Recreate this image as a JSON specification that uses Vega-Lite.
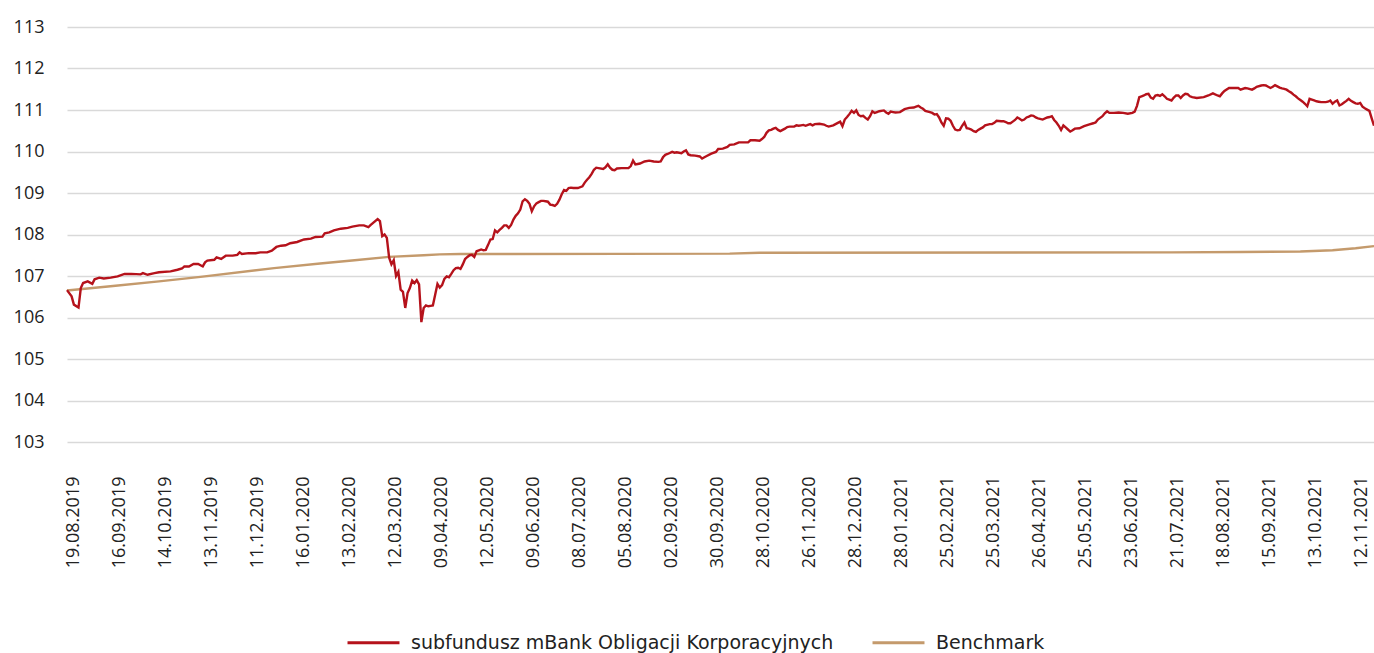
{
  "$schema": "https://vega.github.io/schema/vega-lite/v6.json",
  "autosize": "none",
  "width": 1307,
  "height": 415,
  "padding": {"left": 67, "top": 27, "right": 0, "bottom": 211},
  "background": "white",
  "config": {
    "view": {"stroke": null},
    "font": "Open Sans",
    "axis": {"labelFont": "Open Sans", "labelColor": "#222222", "labelFontSize": 18},
    "legend": {"labelFont": "DejaVu Sans", "labelColor": "#222222", "labelFontSize": 19}
  },
  "datasets": {
    "fund": [
      {"n":0,"v":106.66},{"n":2,"v":106.51},{"n":3,"v":106.31},{"n":5,"v":106.24},{"n":6,"v":106.71},{"n":7,"v":106.83},{"n":9,"v":106.87},{"n":11,"v":106.81},{"n":12,"v":106.92},{"n":14,"v":106.96},{"n":16,"v":106.94},{"n":19,"v":106.96},{"n":22,"v":106.99},{"n":25,"v":107.05},{"n":28,"v":107.05},{"n":32,"v":107.04},{"n":33,"v":107.07},{"n":35,"v":107.03},{"n":38,"v":107.07},{"n":40,"v":107.09},{"n":45,"v":107.11},{"n":48,"v":107.15},{"n":50,"v":107.18},{"n":51,"v":107.23},{"n":53,"v":107.23},{"n":55,"v":107.29},{"n":57,"v":107.29},{"n":59,"v":107.23},{"n":60,"v":107.33},{"n":61,"v":107.37},{"n":64,"v":107.39},{"n":65,"v":107.45},{"n":67,"v":107.41},{"n":69,"v":107.49},{"n":72,"v":107.49},{"n":74,"v":107.51},{"n":75,"v":107.57},{"n":76,"v":107.53},{"n":79,"v":107.55},{"n":82,"v":107.55},{"n":84,"v":107.57},{"n":87,"v":107.57},{"n":89,"v":107.61},{"n":91,"v":107.70},{"n":93,"v":107.73},{"n":95,"v":107.74},{"n":97,"v":107.79},{"n":100,"v":107.82},{"n":103,"v":107.88},{"n":106,"v":107.90},{"n":108,"v":107.94},{"n":111,"v":107.95},{"n":112,"v":108.03},{"n":114,"v":108.05},{"n":116,"v":108.10},{"n":119,"v":108.14},{"n":122,"v":108.16},{"n":124,"v":108.19},{"n":127,"v":108.22},{"n":129,"v":108.22},{"n":131,"v":108.18},{"n":132,"v":108.23},{"n":135,"v":108.37},{"n":136,"v":108.32},{"n":137,"v":107.96},{"n":138,"v":108.00},{"n":139,"v":107.92},{"n":140,"v":107.44},{"n":141,"v":107.28},{"n":142,"v":107.38},{"n":143,"v":107.00},{"n":144,"v":107.10},{"n":145,"v":106.67},{"n":146,"v":106.62},{"n":147,"v":106.23},{"n":148,"v":106.59},{"n":149,"v":106.71},{"n":150,"v":106.89},{"n":151,"v":106.83},{"n":152,"v":106.90},{"n":153,"v":106.80},{"n":154,"v":105.89},{"n":155,"v":106.23},{"n":156,"v":106.29},{"n":157,"v":106.27},{"n":158,"v":106.28},{"n":159,"v":106.29},{"n":160,"v":106.55},{"n":161,"v":106.81},{"n":162,"v":106.72},{"n":163,"v":106.78},{"n":164,"v":106.93},{"n":165,"v":106.99},{"n":166,"v":106.97},{"n":167,"v":107.05},{"n":168,"v":107.14},{"n":169,"v":107.19},{"n":170,"v":107.20},{"n":171,"v":107.17},{"n":172,"v":107.28},{"n":173,"v":107.41},{"n":174,"v":107.46},{"n":175,"v":107.50},{"n":176,"v":107.51},{"n":177,"v":107.46},{"n":178,"v":107.60},{"n":179,"v":107.62},{"n":180,"v":107.64},{"n":181,"v":107.62},{"n":182,"v":107.63},{"n":183,"v":107.75},{"n":184,"v":107.88},{"n":185,"v":107.89},{"n":186,"v":108.10},{"n":187,"v":108.05},{"n":188,"v":108.11},{"n":189,"v":108.16},{"n":190,"v":108.22},{"n":191,"v":108.22},{"n":192,"v":108.16},{"n":193,"v":108.23},{"n":194,"v":108.36},{"n":195,"v":108.45},{"n":196,"v":108.51},{"n":197,"v":108.60},{"n":198,"v":108.80},{"n":199,"v":108.85},{"n":200,"v":108.81},{"n":201,"v":108.74},{"n":202,"v":108.56},{"n":203,"v":108.68},{"n":204,"v":108.75},{"n":205,"v":108.78},{"n":206,"v":108.81},{"n":207,"v":108.81},{"n":208,"v":108.80},{"n":209,"v":108.79},{"n":210,"v":108.72},{"n":211,"v":108.71},{"n":212,"v":108.69},{"n":213,"v":108.74},{"n":214,"v":108.84},{"n":215,"v":108.97},{"n":216,"v":109.07},{"n":217,"v":109.05},{"n":218,"v":109.12},{"n":219,"v":109.13},{"n":220,"v":109.12},{"n":222,"v":109.12},{"n":224,"v":109.16},{"n":225,"v":109.25},{"n":226,"v":109.32},{"n":227,"v":109.38},{"n":228,"v":109.46},{"n":229,"v":109.56},{"n":230,"v":109.61},{"n":231,"v":109.60},{"n":233,"v":109.58},{"n":234,"v":109.62},{"n":235,"v":109.69},{"n":236,"v":109.61},{"n":237,"v":109.56},{"n":238,"v":109.55},{"n":239,"v":109.59},{"n":241,"v":109.60},{"n":244,"v":109.60},{"n":245,"v":109.65},{"n":246,"v":109.78},{"n":247,"v":109.69},{"n":248,"v":109.70},{"n":249,"v":109.71},{"n":251,"v":109.76},{"n":253,"v":109.78},{"n":255,"v":109.76},{"n":257,"v":109.75},{"n":258,"v":109.76},{"n":259,"v":109.86},{"n":260,"v":109.92},{"n":261,"v":109.94},{"n":263,"v":109.99},{"n":264,"v":109.97},{"n":265,"v":109.98},{"n":267,"v":109.96},{"n":268,"v":110.00},{"n":269,"v":110.03},{"n":270,"v":109.93},{"n":271,"v":109.91},{"n":273,"v":109.90},{"n":275,"v":109.88},{"n":276,"v":109.83},{"n":277,"v":109.86},{"n":278,"v":109.89},{"n":280,"v":109.95},{"n":282,"v":109.99},{"n":283,"v":110.06},{"n":285,"v":110.07},{"n":287,"v":110.11},{"n":288,"v":110.16},{"n":290,"v":110.17},{"n":292,"v":110.22},{"n":294,"v":110.22},{"n":296,"v":110.22},{"n":297,"v":110.27},{"n":299,"v":110.27},{"n":301,"v":110.26},{"n":302,"v":110.30},{"n":303,"v":110.35},{"n":304,"v":110.45},{"n":305,"v":110.51},{"n":306,"v":110.52},{"n":307,"v":110.55},{"n":308,"v":110.57},{"n":309,"v":110.52},{"n":310,"v":110.49},{"n":311,"v":110.52},{"n":312,"v":110.55},{"n":313,"v":110.59},{"n":314,"v":110.60},{"n":316,"v":110.60},{"n":317,"v":110.63},{"n":318,"v":110.62},{"n":319,"v":110.63},{"n":320,"v":110.64},{"n":321,"v":110.62},{"n":322,"v":110.64},{"n":323,"v":110.66},{"n":324,"v":110.63},{"n":325,"v":110.66},{"n":327,"v":110.67},{"n":329,"v":110.65},{"n":330,"v":110.62},{"n":331,"v":110.60},{"n":333,"v":110.63},{"n":335,"v":110.69},{"n":336,"v":110.72},{"n":337,"v":110.61},{"n":338,"v":110.77},{"n":339,"v":110.83},{"n":340,"v":110.90},{"n":341,"v":110.98},{"n":342,"v":110.93},{"n":343,"v":110.99},{"n":344,"v":110.88},{"n":345,"v":110.85},{"n":346,"v":110.86},{"n":347,"v":110.81},{"n":348,"v":110.77},{"n":349,"v":110.85},{"n":350,"v":110.97},{"n":351,"v":110.93},{"n":352,"v":110.95},{"n":353,"v":110.97},{"n":355,"v":110.99},{"n":356,"v":110.94},{"n":357,"v":110.91},{"n":358,"v":110.96},{"n":359,"v":110.95},{"n":360,"v":110.94},{"n":362,"v":110.95},{"n":364,"v":111.02},{"n":366,"v":111.05},{"n":368,"v":111.06},{"n":369,"v":111.08},{"n":370,"v":111.10},{"n":371,"v":111.06},{"n":372,"v":111.03},{"n":373,"v":110.98},{"n":375,"v":110.95},{"n":376,"v":110.93},{"n":377,"v":110.89},{"n":378,"v":110.90},{"n":379,"v":110.82},{"n":380,"v":110.70},{"n":381,"v":110.62},{"n":382,"v":110.80},{"n":383,"v":110.79},{"n":384,"v":110.74},{"n":385,"v":110.62},{"n":386,"v":110.53},{"n":387,"v":110.51},{"n":388,"v":110.52},{"n":389,"v":110.62},{"n":390,"v":110.70},{"n":391,"v":110.56},{"n":392,"v":110.55},{"n":393,"v":110.53},{"n":394,"v":110.49},{"n":395,"v":110.47},{"n":396,"v":110.52},{"n":397,"v":110.55},{"n":398,"v":110.58},{"n":399,"v":110.63},{"n":401,"v":110.66},{"n":402,"v":110.66},{"n":403,"v":110.69},{"n":404,"v":110.74},{"n":406,"v":110.73},{"n":407,"v":110.73},{"n":408,"v":110.71},{"n":409,"v":110.68},{"n":410,"v":110.68},{"n":411,"v":110.72},{"n":412,"v":110.76},{"n":413,"v":110.82},{"n":414,"v":110.79},{"n":415,"v":110.75},{"n":416,"v":110.77},{"n":417,"v":110.82},{"n":418,"v":110.84},{"n":419,"v":110.87},{"n":420,"v":110.86},{"n":421,"v":110.82},{"n":422,"v":110.80},{"n":424,"v":110.77},{"n":426,"v":110.82},{"n":427,"v":110.83},{"n":428,"v":110.85},{"n":429,"v":110.76},{"n":430,"v":110.70},{"n":431,"v":110.62},{"n":432,"v":110.52},{"n":433,"v":110.63},{"n":434,"v":110.58},{"n":435,"v":110.53},{"n":436,"v":110.48},{"n":437,"v":110.51},{"n":438,"v":110.55},{"n":440,"v":110.56},{"n":442,"v":110.61},{"n":444,"v":110.65},{"n":446,"v":110.68},{"n":447,"v":110.70},{"n":448,"v":110.77},{"n":449,"v":110.81},{"n":450,"v":110.85},{"n":451,"v":110.92},{"n":452,"v":110.97},{"n":453,"v":110.93},{"n":455,"v":110.93},{"n":457,"v":110.94},{"n":459,"v":110.93},{"n":461,"v":110.91},{"n":463,"v":110.93},{"n":464,"v":110.96},{"n":465,"v":111.10},{"n":466,"v":111.31},{"n":467,"v":111.33},{"n":468,"v":111.35},{"n":469,"v":111.38},{"n":470,"v":111.39},{"n":471,"v":111.30},{"n":472,"v":111.27},{"n":473,"v":111.35},{"n":474,"v":111.36},{"n":475,"v":111.34},{"n":476,"v":111.38},{"n":477,"v":111.33},{"n":478,"v":111.27},{"n":479,"v":111.25},{"n":480,"v":111.23},{"n":481,"v":111.30},{"n":482,"v":111.35},{"n":483,"v":111.35},{"n":484,"v":111.29},{"n":485,"v":111.35},{"n":486,"v":111.39},{"n":487,"v":111.38},{"n":488,"v":111.33},{"n":489,"v":111.31},{"n":491,"v":111.29},{"n":494,"v":111.31},{"n":496,"v":111.35},{"n":498,"v":111.40},{"n":500,"v":111.35},{"n":501,"v":111.33},{"n":502,"v":111.40},{"n":503,"v":111.46},{"n":505,"v":111.53},{"n":507,"v":111.53},{"n":509,"v":111.53},{"n":510,"v":111.49},{"n":512,"v":111.53},{"n":513,"v":111.52},{"n":515,"v":111.49},{"n":516,"v":111.52},{"n":517,"v":111.56},{"n":519,"v":111.59},{"n":520,"v":111.60},{"n":521,"v":111.59},{"n":522,"v":111.56},{"n":523,"v":111.53},{"n":524,"v":111.56},{"n":525,"v":111.60},{"n":526,"v":111.57},{"n":527,"v":111.54},{"n":528,"v":111.52},{"n":529,"v":111.51},{"n":530,"v":111.49},{"n":531,"v":111.45},{"n":532,"v":111.42},{"n":533,"v":111.37},{"n":534,"v":111.33},{"n":535,"v":111.28},{"n":536,"v":111.24},{"n":537,"v":111.20},{"n":538,"v":111.15},{"n":539,"v":111.09},{"n":540,"v":111.27},{"n":541,"v":111.25},{"n":542,"v":111.23},{"n":543,"v":111.21},{"n":544,"v":111.20},{"n":545,"v":111.19},{"n":547,"v":111.19},{"n":548,"v":111.20},{"n":549,"v":111.23},{"n":550,"v":111.15},{"n":551,"v":111.20},{"n":552,"v":111.23},{"n":553,"v":111.11},{"n":554,"v":111.14},{"n":555,"v":111.18},{"n":556,"v":111.22},{"n":557,"v":111.27},{"n":558,"v":111.22},{"n":559,"v":111.19},{"n":560,"v":111.16},{"n":561,"v":111.15},{"n":562,"v":111.17},{"n":563,"v":111.08},{"n":564,"v":111.04},{"n":565,"v":111.01},{"n":566,"v":110.98},{"n":567,"v":110.80},{"n":568,"v":110.62}
    ],
    "bench": [
      {"n":0,"v":106.65},{"n":20,"v":106.76},{"n":40,"v":106.87},{"n":58,"v":106.98},{"n":90,"v":107.19},{"n":110,"v":107.30},{"n":125,"v":107.38},{"n":140,"v":107.46},{"n":155,"v":107.50},{"n":162,"v":107.52},{"n":171,"v":107.53},{"n":288,"v":107.54},{"n":301,"v":107.56},{"n":480,"v":107.57},{"n":510,"v":107.58},{"n":536,"v":107.59},{"n":550,"v":107.62},{"n":560,"v":107.67},{"n":568,"v":107.72}
    ]
  },
  "encoding": {
    "x": {
      "field": "n",
      "type": "quantitative",
      "scale": {"domain": [0, 568], "nice": false, "zero": false},
      "axis": {
        "title": null,
        "grid": false,
        "domain": false,
        "ticks": false,
        "labelAngle": 270,
        "labelPadding": 34,
        "labelOffset": 6,
        "labelOverlap": false,
        "labelFlush": false,
        "values": [0,20,40,60,80,100,120,140,160,180,200,220,240,260,280,300,320,340,360,380,400,420,440,460,480,500,520,540,560],
        "labelExpr": "['19.08.2019','16.09.2019','14.10.2019','13.11.2019','11.12.2019','16.01.2020','13.02.2020','12.03.2020','09.04.2020','12.05.2020','09.06.2020','08.07.2020','05.08.2020','02.09.2020','30.09.2020','28.10.2020','26.11.2020','28.12.2020','28.01.2021','25.02.2021','25.03.2021','26.04.2021','25.05.2021','23.06.2021','21.07.2021','18.08.2021','15.09.2021','13.10.2021','12.11.2021'][round(datum.value / 20)]"
      }
    },
    "y": {
      "field": "v",
      "type": "quantitative",
      "scale": {"domain": [103, 113], "nice": false, "zero": false},
      "axis": {
        "title": null,
        "values": [103,104,105,106,107,108,109,110,111,112,113],
        "grid": true,
        "gridColor": "#d9d9d9",
        "gridWidth": 1.5,
        "domain": false,
        "ticks": false,
        "labelPadding": 23
      }
    }
  },
  "layer": [
    {
      "data": {"name": "bench"},
      "mark": {"type": "line", "strokeWidth": 2.4, "interpolate": "linear"},
      "encoding": {
        "color": {
          "datum": "Benchmark",
          "type": "nominal",
          "scale": {"domain": ["subfundusz mBank Obligacji Korporacyjnych", "Benchmark"], "range": ["#B5121B", "#C49A6C"]},
          "legend": {
            "title": null,
            "orient": "none",
            "legendX": 279,
            "legendY": 588,
            "direction": "horizontal",
            "padding": 0,
            "symbolType": "stroke",
            "symbolSize": 2700,
            "symbolStrokeWidth": 3,
            "columnPadding": 32,
            "labelOffset": 10,
            "labelLimit": 1000
          }
        }
      }
    },
    {
      "data": {"name": "fund"},
      "mark": {"type": "line", "strokeWidth": 2.4, "interpolate": "linear"},
      "encoding": {
        "color": {
          "datum": "subfundusz mBank Obligacji Korporacyjnych",
          "type": "nominal"
        }
      }
    }
  ]
}
